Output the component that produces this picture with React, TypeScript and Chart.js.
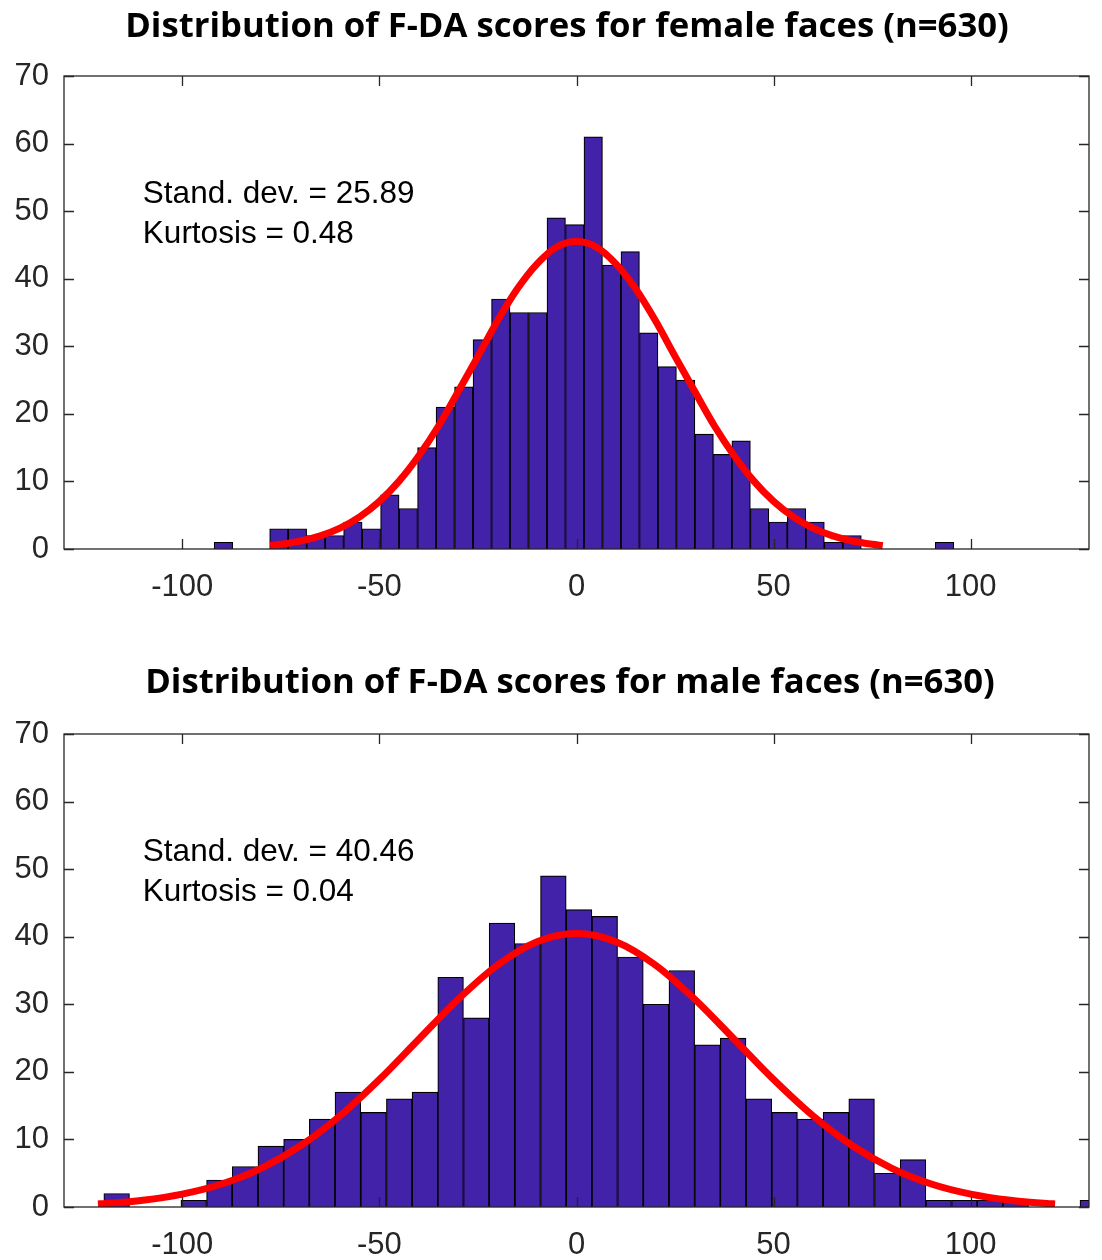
import React, { useEffect, useRef } from "react";
import { Chart, registerables } from "chart.js";

Chart.register(...registerables);

// ---------- data ----------
const X_TICKS = [-100, -50, 0, 50, 100];
const Y_TICKS = [0, 10, 20, 30, 40, 50, 60, 70];

// Female faces histogram (bin centres and counts)
const FEMALE_BIN_CENTERS = [
  -89.56, -84.87, -80.18, -75.49, -70.8, -66.11, -61.42, -56.73, -52.04, -47.35,
  -42.66, -37.97, -33.28, -28.59, -23.9, -19.21, -14.52, -9.83, -5.14, -0.45,
  4.24, 8.93, 13.62, 18.31, 23.0, 27.69, 32.38, 37.07, 41.76, 46.45,
  51.14, 55.83, 60.52, 65.21, 69.9, 74.59, 79.28, 83.97, 88.66, 93.35,
];
const FEMALE_COUNTS = [
  1, 0, 0, 3, 3, 2, 2, 4, 3, 8,
  6, 15, 21, 24, 31, 37, 35, 35, 49, 48,
  61, 42, 44, 32, 27, 25, 17, 14, 16, 6,
  4, 6, 4, 1, 2, 0, 0, 0, 0, 1,
];
// Red fitted curve
const FEMALE_FIT_X = [
  -77.7, -75, -70, -65, -60, -55, -50, -45, -40, -35, -30, -25, -20, -15, -10, -5,
  0, 5, 10, 15, 20, 25, 30, 35, 40, 45, 50, 55, 60, 65, 70, 75, 77.7,
];
const FEMALE_FIT_Y = [
  0.51, 0.69, 1.18, 1.95, 3.1, 4.76, 7.05, 10.05, 13.8, 18.2, 23.3, 28.5, 33.8, 38.5, 42.2, 44.7,
  45.5, 44.7, 42.2, 38.5, 33.8, 28.5, 23.3, 18.2, 13.8, 10.05, 7.05, 4.76, 3.1, 1.95, 1.18, 0.69, 0.51,
];

// Male faces histogram
const MALE_BIN_CENTERS = [
  -116.64, -110.12, -103.61, -97.09, -90.58, -84.06, -77.54, -71.03, -64.51, -58.0,
  -51.48, -44.96, -38.45, -31.93, -25.42, -18.9, -12.38, -5.87, 0.65, 7.16,
  13.68, 20.2, 26.71, 33.23, 39.74, 46.26, 52.78, 59.29, 65.81, 72.32,
  78.84, 85.36, 91.87, 98.39, 104.9, 111.42, 117.94, 124.45, 130.97,
];
const MALE_COUNTS = [
  2, 0, 0, 1, 4, 6, 9, 10, 13, 17,
  14, 16, 17, 34, 28, 42, 39, 49, 44, 43,
  37, 30, 35, 24, 25, 16, 14, 13, 14, 16,
  5, 7, 1, 1, 1, 1, 0, 0, 1,
];
const MALE_FIT_X = [
  -121.4, -120, -110, -100, -90, -80, -70, -60, -50, -40, -30, -20, -10,
  0, 10, 20, 30, 40, 50, 60, 70, 80, 90, 100, 110, 120, 121.4,
];
const MALE_FIT_Y = [
  0.45, 0.5, 1.0, 1.91, 3.41, 5.73, 9.06, 13.48, 18.86, 24.83, 30.75, 35.82, 39.26,
  40.48, 39.26, 35.82, 30.75, 24.83, 18.86, 13.48, 9.06, 5.73, 3.41, 1.91, 1.0, 0.5, 0.45,
];

const FEMALE_TITLE = "Distribution of F-DA scores for female faces (n=630)";
const MALE_TITLE = "Distribution of F-DA scores for male faces (n=630)";
const FEMALE_STATS = ["Stand. dev. = 25.89", "Kurtosis = 0.48"];
const MALE_STATS = ["Stand. dev. = 40.46", "Kurtosis = 0.04"];

// ---------- styling ----------
const BAR_COLOR = "#4222a8";
const CURVE_COLOR = "#ff0000";
const AXIS_COLOR = "#262626";
const LABEL_FONT = "Liberation Sans, Arial, sans-serif";
const TITLE_FONT = "Open Sans, Lato, sans-serif";
const TICK_LEN = 10;

const framePlugin = {
  id: "matlabFrame",
  afterDatasetsDraw(chart: any, _args: any, opts: any) {
    const { ctx, chartArea: a, scales } = chart;
    const x = scales.x;
    const y = scales.y;
    ctx.save();
    ctx.strokeStyle = AXIS_COLOR;
    ctx.lineWidth = 1.3;
    ctx.strokeRect(a.left, a.top, a.right - a.left, a.bottom - a.top);
    ctx.beginPath();
    X_TICKS.forEach((v) => {
      const px = Math.round(x.getPixelForValue(v)) + 0.5;
      ctx.moveTo(px, a.bottom);
      ctx.lineTo(px, a.bottom - TICK_LEN);
      ctx.moveTo(px, a.top);
      ctx.lineTo(px, a.top + TICK_LEN);
    });
    Y_TICKS.forEach((v) => {
      const py = Math.round(y.getPixelForValue(v)) + 0.5;
      ctx.moveTo(a.left, py);
      ctx.lineTo(a.left + TICK_LEN, py);
      ctx.moveTo(a.right, py);
      ctx.lineTo(a.right - TICK_LEN, py);
    });
    ctx.stroke();

    // statistics annotation
    ctx.fillStyle = "#000000";
    ctx.font = `31.5px ${LABEL_FONT}`;
    ctx.textAlign = "left";
    ctx.textBaseline = "alphabetic";
    const tx = x.getPixelForValue(opts.textX);
    (opts.lines || []).forEach((t: string, i: number) => {
      ctx.fillText(t, tx, y.getPixelForValue(opts.textY[i]));
    });

    // title
    ctx.font = `bold ${opts.titleSize}px ${TITLE_FONT}`;
    ctx.textAlign = "center";
    ctx.fillText(opts.title, opts.titleX, opts.titleBaseline);
    ctx.restore();
  },
};

function makeConfig(p: {
  centers: number[];
  counts: number[];
  fitX: number[];
  fitY: number[];
  title: string;
  stats: string[];
  titleX: number;
  titleBaseline: number;
  bottomPad: number;
}): any {
  const bars = p.centers.map((c, i) => ({ x: c, y: p.counts[i] }));
  const curve = p.fitX.map((v, i) => ({ x: v, y: p.fitY[i] }));
  const tickFont = { family: LABEL_FONT, size: 31 };
  return {
    type: "bar",
    data: {
      datasets: [
        {
          type: "line",
          data: curve,
          borderColor: CURVE_COLOR,
          borderWidth: 7,
          pointRadius: 0,
          fill: false,
          cubicInterpolationMode: "monotone",
          order: 0,
        },
        {
          type: "bar",
          data: bars,
          backgroundColor: BAR_COLOR,
          borderColor: "#000000",
          borderWidth: 1.2,
          barPercentage: 1,
          categoryPercentage: 1,
          clip: 0,
          order: 1,
        },
      ],
    },
    options: {
      animation: false,
      responsive: false,
      events: [],
      layout: { padding: { left: 0, right: 13, top: 76, bottom: p.bottomPad } },
      plugins: {
        legend: { display: false },
        tooltip: { enabled: false },
        title: { display: false },
        matlabFrame: {
          title: p.title,
          titleX: p.titleX,
          titleBaseline: p.titleBaseline,
          titleSize: 34.7,
          lines: p.stats,
          textX: -110,
          textY: [51.2, 45.3],
        },
      },
      scales: {
        x: {
          type: "linear",
          min: -130,
          max: 130,
          offset: false,
          afterBuildTicks: (s: any) => {
            s.ticks = X_TICKS.map((v) => ({ value: v }));
          },
          afterFit: (s: any) => {
            s.height = 60;
          },
          grid: { display: false, drawTicks: false },
          border: { display: false },
          ticks: {
            font: tickFont,
            color: AXIS_COLOR,
            padding: 20,
            maxRotation: 0,
            autoSkip: false,
          },
        },
        y: {
          min: 0,
          max: 70,
          afterBuildTicks: (s: any) => {
            s.ticks = Y_TICKS.map((v) => ({ value: v }));
          },
          afterFit: (s: any) => {
            s.width = 64;
          },
          grid: { display: false, drawTicks: false },
          border: { display: false },
          ticks: { font: tickFont, color: AXIS_COLOR, padding: 15 },
        },
      },
    },
    plugins: [framePlugin],
  };
}

function HistChart(props: { config: any; width: number; height: number; top: number }) {
  const ref = useRef<HTMLCanvasElement | null>(null);
  useEffect(() => {
    if (!ref.current) return;
    const chart = new Chart(ref.current, props.config);
    return () => chart.destroy();
  }, []);
  return (
    <canvas
      ref={ref}
      width={props.width}
      height={props.height}
      style={{ position: "absolute", left: 0, top: props.top, display: "block" }}
    />
  );
}

export default function App() {
  const femaleCfg = makeConfig({
    centers: FEMALE_BIN_CENTERS,
    counts: FEMALE_COUNTS,
    fitX: FEMALE_FIT_X,
    fitY: FEMALE_FIT_Y,
    title: FEMALE_TITLE,
    stats: FEMALE_STATS,
    titleX: 567,
    titleBaseline: 37,
    bottomPad: 49,
  });
  const maleCfg = makeConfig({
    centers: MALE_BIN_CENTERS,
    counts: MALE_COUNTS,
    fitX: MALE_FIT_X,
    fitY: MALE_FIT_Y,
    title: MALE_TITLE,
    stats: MALE_STATS,
    titleX: 570,
    titleBaseline: 35,
    bottomPad: -7,
  });
  return (
    <div style={{ position: "absolute", left: 0, top: 0, width: 1102, height: 1260, background: "#ffffff" }}>
      <HistChart config={femaleCfg} width={1102} height={658} top={0} />
      <HistChart config={maleCfg} width={1102} height={602} top={658} />
    </div>
  );
}
